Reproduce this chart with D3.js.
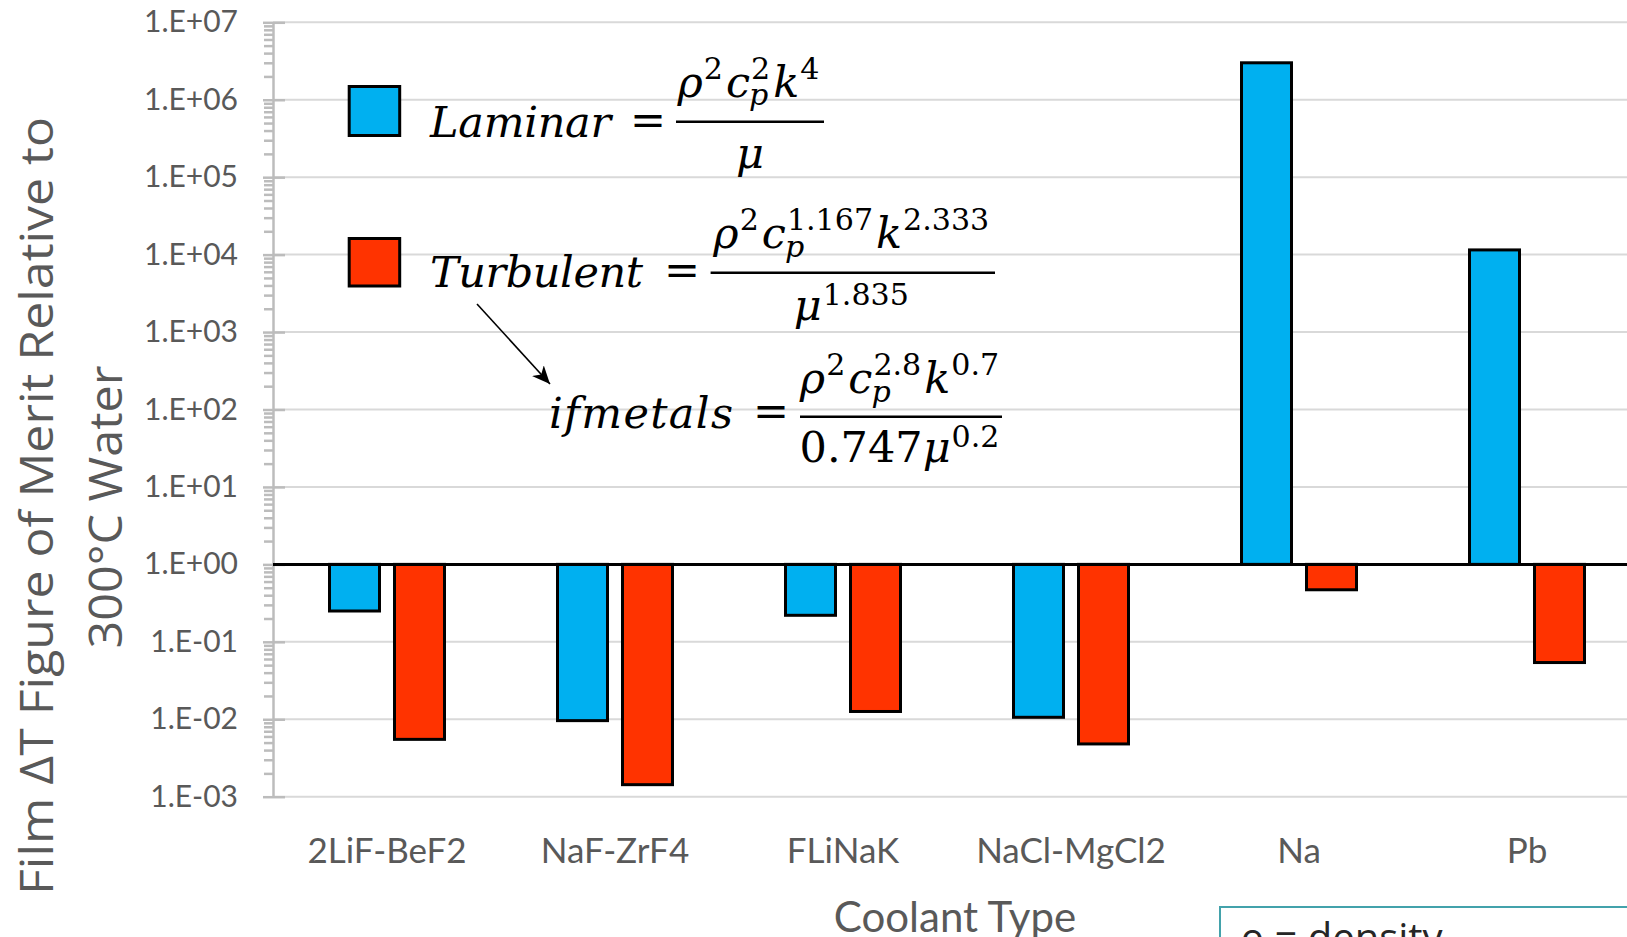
<!DOCTYPE html>
<html>
<head>
<meta charset="utf-8">
<script src="https://cdn.jsdelivr.net/npm/d3@7"></script>
<style>
  body { margin: 0; background: #fff; }
  svg { display: block; }
</style>
</head>
<body>
<div id="chart"></div>
<script>
// data
const categories = ["2LiF-BeF2", "NaF-ZrF4", "FLiNaK", "NaCl-MgCl2", "Na", "Pb"];
const series = ["Laminar", "Turbulent"];
const laminar = [0.25, 0.0096, 0.22, 0.0106, 3.0e6, 1.15e4];
const turbulent = [0.0055, 0.00143, 0.0126, 0.0048, 0.47, 0.054];
const yTicks = [1e-3, 1e-2, 1e-1, 1, 1e1, 1e2, 1e3, 1e4, 1e5, 1e6, 1e7];
const colors = ["#00b0f0", "#ff3300"];

// formula pieces: b = base, sup / sub = scripts, up = upright
const lamNum = [{b: "ρ", sup: "2"}, {b: "c", sub: "p", sup: "2"}, {b: "k", sup: "4"}];
const lamDen = [{b: "μ"}];
const turNum = [{b: "ρ", sup: "2"}, {b: "c", sub: "p", sup: "1.167"}, {b: "k", sup: "2.333"}];
const turDen = [{b: "μ", sup: "1.835"}];
const metNum = [{b: "ρ", sup: "2"}, {b: "c", sub: "p", sup: "2.8"}, {b: "k", sup: "0.7"}];
const metDen = [{b: "0.747", up: true}, {b: "μ", sup: "0.2"}];

const width = 1627, height = 937;
const gray = "#595959";

const svg = d3.select("#chart")
  .append("svg")
  .attr("width", width)
  .attr("height", height);

svg.append("rect").attr("width", width).attr("height", height).attr("fill", "white");

const left = 273, step = 228;
const x0 = d3.scaleBand()
  .domain(categories)
  .range([left, left + step * categories.length]);
const x1 = d3.scaleBand()
  .domain(series)
  .range([56.5, 171.5])
  .paddingInner(0.2308);
const y = d3.scaleLog()
  .domain([1e-3, 1e7])
  .range([796.7, 22.3]);

const fmt = d => {
  const e = Math.round(Math.log10(d));
  return "1.E" + (e < 0 ? "-" : "+") + String(Math.abs(e)).padStart(2, "0");
};

// gridlines
svg.append("g")
  .selectAll("line")
  .data(yTicks)
  .join("line")
  .attr("x1", left)
  .attr("x2", width)
  .attr("y1", d => y(d))
  .attr("y2", d => y(d))
  .attr("stroke", "#d9d9d9")
  .attr("stroke-width", 2);

// minor ticks
const minor = y.ticks(20).filter(d => !yTicks.some(t => Math.abs(t - d) / t < 1e-9));
svg.append("g")
  .attr("transform", `translate(${left},0)`)
  .call(d3.axisLeft(y).tickValues(minor).tickSize(9).tickSizeOuter(0).tickFormat(""))
  .call(g => g.select(".domain").remove())
  .selectAll("line")
  .attr("stroke", "#bcbcbc")
  .attr("stroke-width", 2.5);

// major axis
const yAxis = svg.append("g")
  .attr("transform", `translate(${left},0)`)
  .call(d3.axisLeft(y).tickValues(yTicks).tickFormat(fmt).tickSize(10).tickSizeOuter(0).tickPadding(25));
yAxis.select(".domain").attr("stroke", "#bcbcbc").attr("stroke-width", 2.5);
yAxis.selectAll(".tick line").attr("x1", 12).attr("stroke", "#bcbcbc").attr("stroke-width", 2.5);
yAxis.selectAll(".tick text")
  .attr("font-family", "Lato")
  .attr("font-size", 30)
  .attr("fill", gray);

// bars
const groups = svg.append("g")
  .selectAll("g")
  .data(categories)
  .join("g")
  .attr("transform", d => `translate(${x0(d)},0)`);

groups.selectAll("rect")
  .data((d, i) => [laminar[i], turbulent[i]].map((v, j) => ({s: series[j], v, j})))
  .join("rect")
  .attr("x", d => x1(d.s))
  .attr("width", x1.bandwidth())
  .attr("y", d => Math.min(y(1), y(d.v)))
  .attr("height", d => Math.abs(y(d.v) - y(1)))
  .attr("fill", d => colors[d.j])
  .attr("stroke", "#000")
  .attr("stroke-width", 3);

// horizontal axis crossing at 1
svg.append("line")
  .attr("x1", left)
  .attr("x2", width)
  .attr("y1", y(1))
  .attr("y2", y(1))
  .attr("stroke", "#000")
  .attr("stroke-width", 3);

// category labels
const xAxis = svg.append("g")
  .attr("transform", `translate(0,${y(1e-3)})`)
  .call(d3.axisBottom(x0).tickSize(0).tickPadding(41.5));
xAxis.select(".domain").remove();
xAxis.selectAll(".tick text")
  .attr("font-family", "Lato")
  .attr("font-size", 35)
  .attr("fill", gray);

// axis titles
svg.append("text")
  .attr("x", 955)
  .attr("y", 932)
  .attr("text-anchor", "middle")
  .attr("font-family", "Lato")
  .attr("font-size", 42)
  .attr("fill", gray)
  .text("Coolant Type");

const yt = svg.append("g")
  .attr("font-family", "Open Sans")
  .attr("font-size", 46)
  .attr("fill", gray)
  .attr("text-anchor", "middle");
yt.append("text")
  .attr("transform", "translate(53,506) rotate(-90)")
  .attr("textLength", 778)
  .attr("lengthAdjust", "spacingAndGlyphs")
  .text("Film ΔT Figure of Merit Relative to");
yt.append("text")
  .attr("transform", "translate(122,507) rotate(-90)")
  .attr("textLength", 283)
  .attr("lengthAdjust", "spacingAndGlyphs")
  .text("300°C Water");

// legend squares
svg.append("g")
  .selectAll("rect")
  .data(series)
  .join("rect")
  .attr("x", 349.2)
  .attr("y", (d, i) => i ? 238.5 : 86.5)
  .attr("width", 50.5)
  .attr("height", (d, i) => i ? 47.5 : 49)
  .attr("fill", (d, i) => colors[i])
  .attr("stroke", "#000")
  .attr("stroke-width", 3);

// formulas
const MF = "DejaVu Serif", FS = 43;
const math = svg.append("g").attr("font-family", MF).attr("fill", "#000");

function row(g, items, size, supShift) {
  let x = 0;
  items.forEach(it => {
    const b = g.append("text")
      .attr("x", x)
      .attr("font-size", size)
      .attr("font-style", it.up ? "normal" : "italic")
      .text(it.b);
    x += b.node().getComputedTextLength();
    let w = 0;
    if (it.sup) {
      const s = g.append("text")
        .attr("x", x + 1)
        .attr("y", -supShift * size)
        .attr("font-size", size * 0.7)
        .text(it.sup);
      w = Math.max(w, s.node().getComputedTextLength() + 1);
    }
    if (it.sub) {
      const s = g.append("text")
        .attr("x", x - 1)
        .attr("y", 0.2 * size)
        .attr("font-size", size * 0.7)
        .attr("font-style", "italic")
        .text(it.sub);
      w = Math.max(w, s.node().getComputedTextLength() - 1);
    }
    x += w + ((it.sup || it.sub) ? 3 : 0);
  });
  return x;
}

function formula(label, lx, lw, base, eqx, bx0, bx1, by, num, numBase, den, denBase) {
  math.append("text")
    .attr("x", lx)
    .attr("y", base)
    .attr("font-size", FS)
    .attr("font-style", "italic")
    .attr("textLength", lw)
    .attr("lengthAdjust", "spacing")
    .text(label);
  math.append("text")
    .attr("x", eqx)
    .attr("y", base - 2)
    .attr("font-size", FS)
    .text("=");
  math.append("line")
    .attr("x1", bx0)
    .attr("x2", bx1)
    .attr("y1", by)
    .attr("y2", by)
    .attr("stroke", "#000")
    .attr("stroke-width", 2.5);
  const cx = (bx0 + bx1) / 2;
  const ng = math.append("g");
  const nw = row(ng, num, FS, 0.42);
  ng.attr("transform", `translate(${cx - nw / 2},${numBase})`);
  const dg = math.append("g");
  const dw = row(dg, den, FS, 0.36);
  dg.attr("transform", `translate(${cx - dw / 2},${denBase})`);
}

formula("Laminar", 430, 181, 136.7, 630, 676, 824, 121.7, lamNum, 96.7, lamDen, 168);
formula("Turbulent", 430, 213, 287.3, 664, 710.6, 995, 272.7, turNum, 248, turDen, 320);
formula("ifmetals", 549, 184, 428.3, 753, 800, 1002, 416.7, metNum, 393, metDen, 462);

// arrow
svg.append("defs")
  .append("marker")
  .attr("id", "arrow")
  .attr("markerUnits", "userSpaceOnUse")
  .attr("markerWidth", 20)
  .attr("markerHeight", 16)
  .attr("refX", 18)
  .attr("refY", 8)
  .attr("orient", "auto")
  .append("path")
  .attr("d", "M0,0 L18,8 L0,16 L5,8 Z")
  .attr("fill", "#000");

svg.append("line")
  .attr("x1", 477)
  .attr("y1", 304)
  .attr("x2", 550)
  .attr("y2", 384)
  .attr("stroke", "#000")
  .attr("stroke-width", 1.6)
  .attr("marker-end", "url(#arrow)");

// note box, cut off by the frame
svg.append("rect")
  .attr("x", 1220)
  .attr("y", 907)
  .attr("width", 500)
  .attr("height", 100)
  .attr("fill", "white")
  .attr("stroke", "#43a2ab")
  .attr("stroke-width", 2);
svg.append("text")
  .attr("x", 1240)
  .attr("y", 952)
  .attr("font-family", "Open Sans")
  .attr("font-size", 40)
  .attr("fill", "#262626")
  .text("ρ = density");
</script>
</body>
</html>
